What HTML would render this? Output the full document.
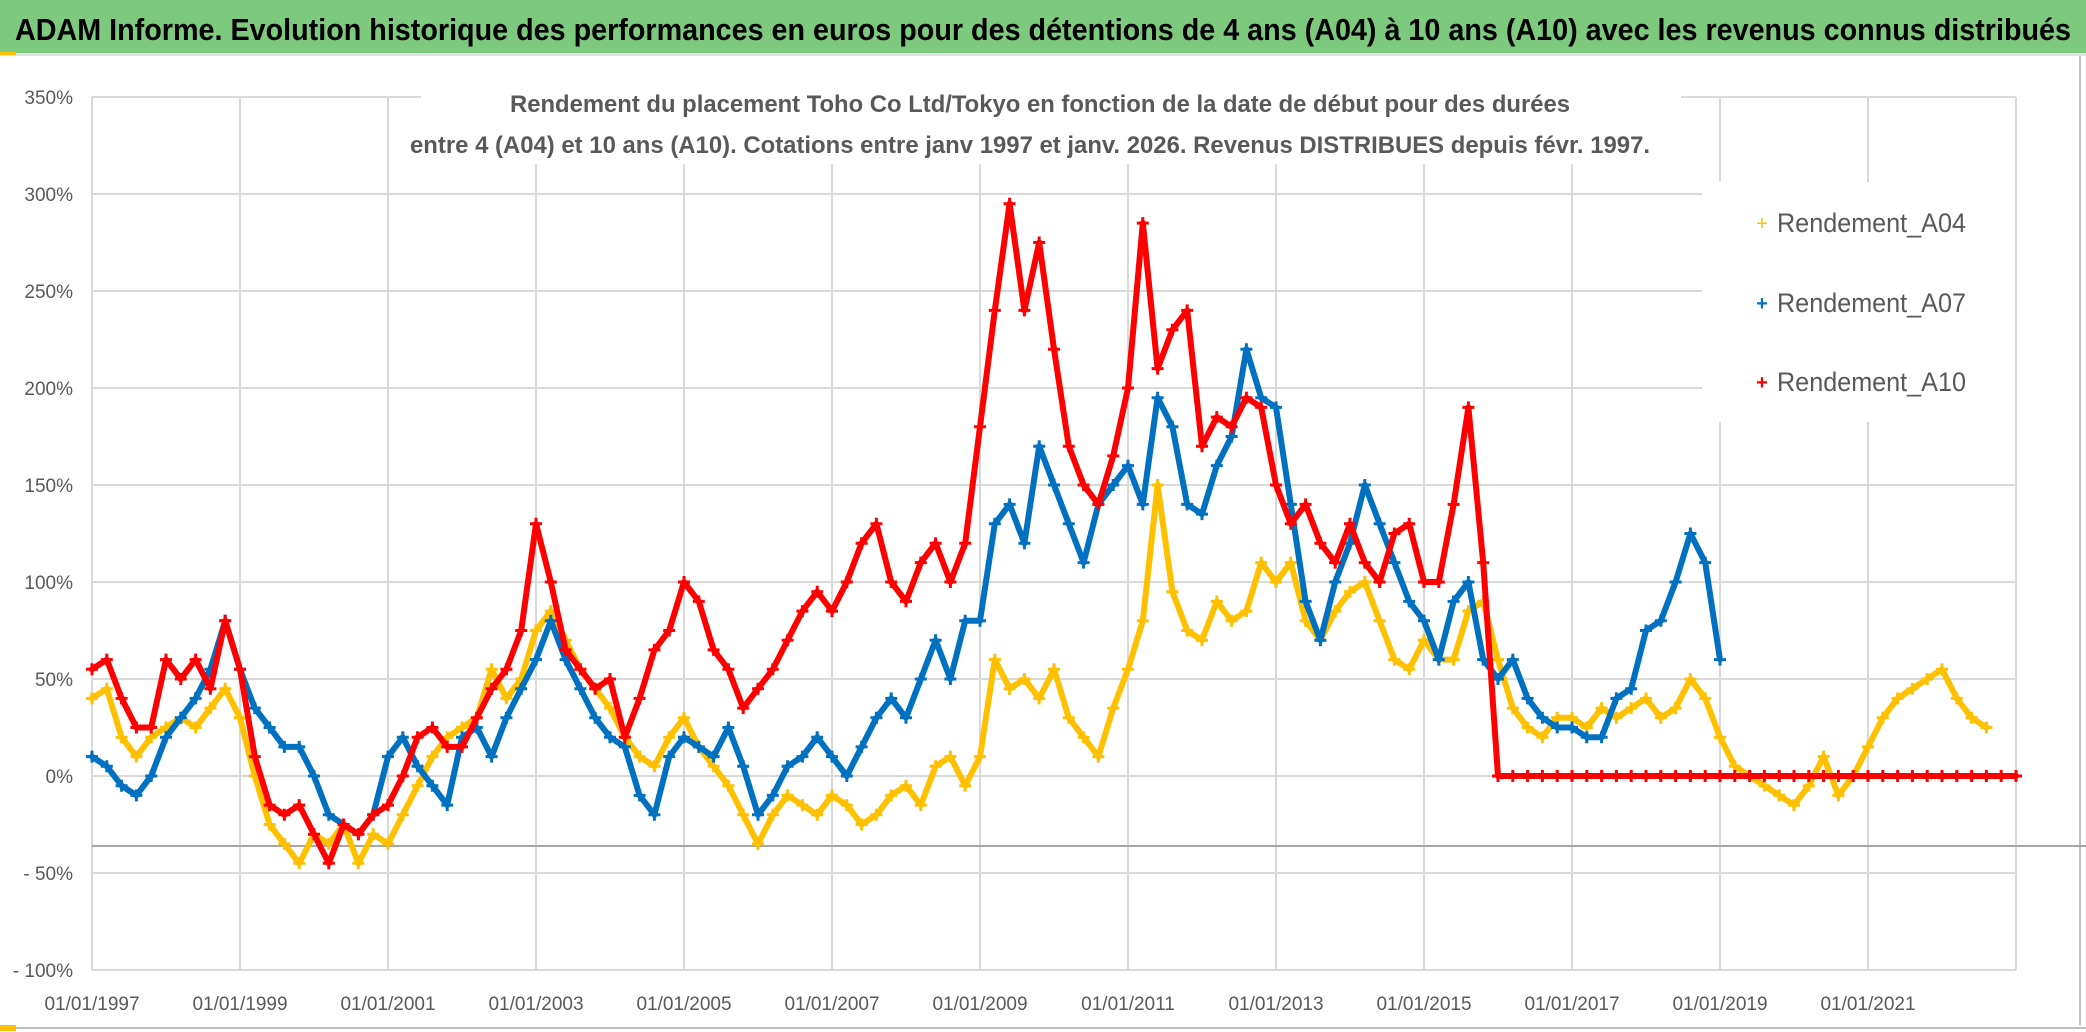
<!DOCTYPE html>
<html><head><meta charset="utf-8">
<style>
html,body{margin:0;padding:0;background:#fff;}
svg{display:block;font-family:"Liberation Sans Narrow","Liberation Sans",sans-serif;}
</style></head>
<body>
<svg id="chart" width="2086" height="1032" viewBox="0 0 2086 1032" xmlns="http://www.w3.org/2000/svg">
<rect x="0" y="0" width="2086" height="1032" fill="#fff"/>
<rect x="0" y="0" width="2086" height="53" fill="#7dc97d"/>
<rect x="0" y="53" width="2086" height="3" fill="#e0e0e0"/>
<rect x="0" y="52" width="16" height="3" fill="#ffc000"/>
<text x="1043" y="40" text-anchor="middle" font-size="31" font-weight="bold" fill="#000" textLength="2056" lengthAdjust="spacingAndGlyphs">ADAM Informe. Evolution historique des performances en euros pour des détentions de 4 ans (A04) à 10 ans (A10) avec les revenus connus distribués</text>
<line x1="2080" y1="56" x2="2080" y2="1025" stroke="#bfbfbf" stroke-width="2"/>
<line x1="0" y1="1028" x2="2086" y2="1028" stroke="#bfbfbf" stroke-width="2"/>
<rect x="0" y="1025" width="16" height="6" fill="#ffc000"/>
<g id="grid"></g>
<g id="yaxis"></g>
<g id="xaxis"></g>
<g id="series"></g>
<rect x="421" y="72" width="1260" height="92" fill="#fff"/>
<text x="1040" y="112" text-anchor="middle" font-size="24" font-weight="bold" fill="#595959" textLength="1060" lengthAdjust="spacingAndGlyphs">Rendement du placement Toho Co Ltd/Tokyo en fonction de la date de début pour des durées</text>
<text x="1030" y="153" text-anchor="middle" font-size="24" font-weight="bold" fill="#595959" textLength="1240" lengthAdjust="spacingAndGlyphs">entre 4 (A04) et 10 ans (A10). Cotations entre janv 1997 et janv. 2026. Revenus DISTRIBUES depuis févr. 1997.</text>
<g>
<rect x="1702" y="182" width="313" height="240" fill="#fff"/>
<g>
<text x="1762" y="230" text-anchor="middle" font-size="20" fill="#ffc000">+</text>
<text x="1777" y="232" font-size="27" fill="#595959" textLength="189" lengthAdjust="spacingAndGlyphs">Rendement_A04</text></g>
<g>
<text x="1762" y="310" text-anchor="middle" font-size="20" fill="#0070c0" font-weight="bold">+</text>
<text x="1777" y="312" font-size="27" fill="#595959" textLength="189" lengthAdjust="spacingAndGlyphs">Rendement_A07</text></g>
<g>
<text x="1762" y="389" text-anchor="middle" font-size="20" fill="#ff0000" font-weight="bold">+</text>
<text x="1777" y="391" font-size="27" fill="#595959" textLength="189" lengthAdjust="spacingAndGlyphs">Rendement_A10</text></g>
</g>
</svg>
<script>
const yTicks = [350,300,250,200,150,100,50,0,-50,-100];
const yTickLabels = ["350%","300%","250%","200%","150%","100%","50%","0%","- 50%","- 100%"];
const xTickYears = [1997,1999,2001,2003,2005,2007,2009,2011,2013,2015,2017,2019,2021];
const xTickLabels = ["01/01/1997","01/01/1999","01/01/2001","01/01/2003","01/01/2005","01/01/2007","01/01/2009","01/01/2011","01/01/2013","01/01/2015","01/01/2017","01/01/2019","01/01/2021"];
const startA04 = 1997.0, startA07 = 1997.0, startA10 = 1997.0, stepYears = 0.2;
const valuesA04 = [40,45,20,10,20,25,30,25,35,45,30,0,-25,-35,-45,-30,-35,-25,-45,-30,-35,-20,-5,10,20,25,30,55,40,50,75,85,70,55,45,35,20,10,5,20,30,15,5,-5,-20,-35,-20,-10,-15,-20,-10,-15,-25,-20,-10,-5,-15,5,10,-5,10,60,45,50,40,55,30,20,10,35,55,80,150,95,75,70,90,80,85,110,100,110,80,70,85,95,100,80,60,55,70,60,60,85,90,60,35,25,20,30,30,25,35,30,35,40,30,35,50,40,20,5,0,-5,-10,-15,-5,10,-10,0,15,30,40,45,50,55,40,30,25];
const valuesA07 = [10,5,-5,-10,0,20,30,40,55,80,55,35,25,15,15,0,-20,-25,-30,-20,10,20,5,-5,-15,20,25,10,30,45,60,80,60,45,30,20,15,-10,-20,10,20,15,10,25,5,-20,-10,5,10,20,10,0,15,30,40,30,50,70,50,80,80,130,140,120,170,150,130,110,140,150,160,140,195,180,140,135,160,175,220,195,190,140,90,70,100,120,150,130,110,90,80,60,90,100,60,50,60,40,30,25,25,20,20,40,45,75,80,100,125,110,60];
const valuesA10 = [55,60,40,25,25,60,50,60,45,80,55,10,-15,-20,-15,-30,-45,-25,-30,-20,-15,0,20,25,15,15,30,45,55,75,130,100,65,55,45,50,20,40,65,75,100,90,65,55,35,45,55,70,85,95,85,100,120,130,100,90,110,120,100,120,180,240,295,240,275,220,170,150,140,165,200,285,210,230,240,170,185,180,195,190,150,130,140,120,110,130,110,100,125,130,100,100,140,190,110,0,0,0,0,0,0,0,0,0,0,0,0,0,0,0,0,0,0,0,0,0,0,0,0,0,0,0,0,0,0,0,0,0,0,0,0];

const NS = "http://www.w3.org/2000/svg";
const X0 = 92, PX_PER_YEAR = 74, Y_ZERO = 776, PX_PER_PCT = 1.94;
function xScale(year){ return X0 + (year - 1997) * PX_PER_YEAR; }
function yScale(v){ return Y_ZERO - v * PX_PER_PCT; }
function mk(tag, attrs){ const e = document.createElementNS(NS, tag); for (const k in attrs) e.setAttribute(k, attrs[k]); return e; }

const grid = document.getElementById('grid');
yTicks.forEach(function(t){
  const l = mk('line', {x1: xScale(1997), x2: xScale(2023), y1: yScale(t), y2: yScale(t), stroke: '#d9d9d9', 'stroke-width': 2});
  
  
  grid.appendChild(l);
});
for (let yr = 1997; yr <= 2023; yr += 2) {
  const l = mk('line', {x1: xScale(yr), x2: xScale(yr), y1: yScale(350), y2: yScale(-100), stroke: '#d9d9d9', 'stroke-width': 2});
  
  
  grid.appendChild(l);
}
const baseLine = mk('line', {x1: xScale(1997), x2: 2086, y1: 846, y2: 846, stroke: '#a6a6a6', 'stroke-width': 2});


grid.appendChild(baseLine);

const yaxis = document.getElementById('yaxis');
yTicks.forEach(function(t, i){
  const tx = mk('text', {x: 73, y: yScale(t) + 7, 'text-anchor': 'end', 'font-size': 19, fill: '#595959'});
  tx.textContent = yTickLabels[i];
  
  
  yaxis.appendChild(tx);
});
const xaxis = document.getElementById('xaxis');
xTickYears.forEach(function(yr, i){
  const tx = mk('text', {x: xScale(yr), y: 1010, 'text-anchor': 'middle', 'font-size': 19, fill: '#595959'});
  tx.textContent = xTickLabels[i];
  
  
  xaxis.appendChild(tx);
});

const seriesLayer = document.getElementById('series');
function drawSeries(values, start, color, name){
  const g = mk('g', {});
  
  
  const pts = values.map(function(v, i){ return xScale(start + i * stepYears).toFixed(1) + ',' + yScale(v).toFixed(1); });
  const pl = mk('polyline', {points: pts.join(' '), fill: 'none', stroke: color, 'stroke-width': 6, 'stroke-linejoin': 'round', 'stroke-linecap': 'round'});
  
  
  g.appendChild(pl);
  values.forEach(function(v, i){
    const x = xScale(start + i * stepYears), y = yScale(v);
    const p = mk('path', {d: 'M' + (x - 6) + ' ' + y + 'h12M' + x + ' ' + (y - 6) + 'v12', stroke: color, 'stroke-width': 3});
    
    
    g.appendChild(p);
  });
  seriesLayer.appendChild(g);
}
drawSeries(valuesA04, startA04, '#ffc000', 'series-a04');
drawSeries(valuesA07, startA07, '#0070c0', 'series-a07');
drawSeries(valuesA10, startA10, '#ff0000', 'series-a10');
</script>
</body></html>
